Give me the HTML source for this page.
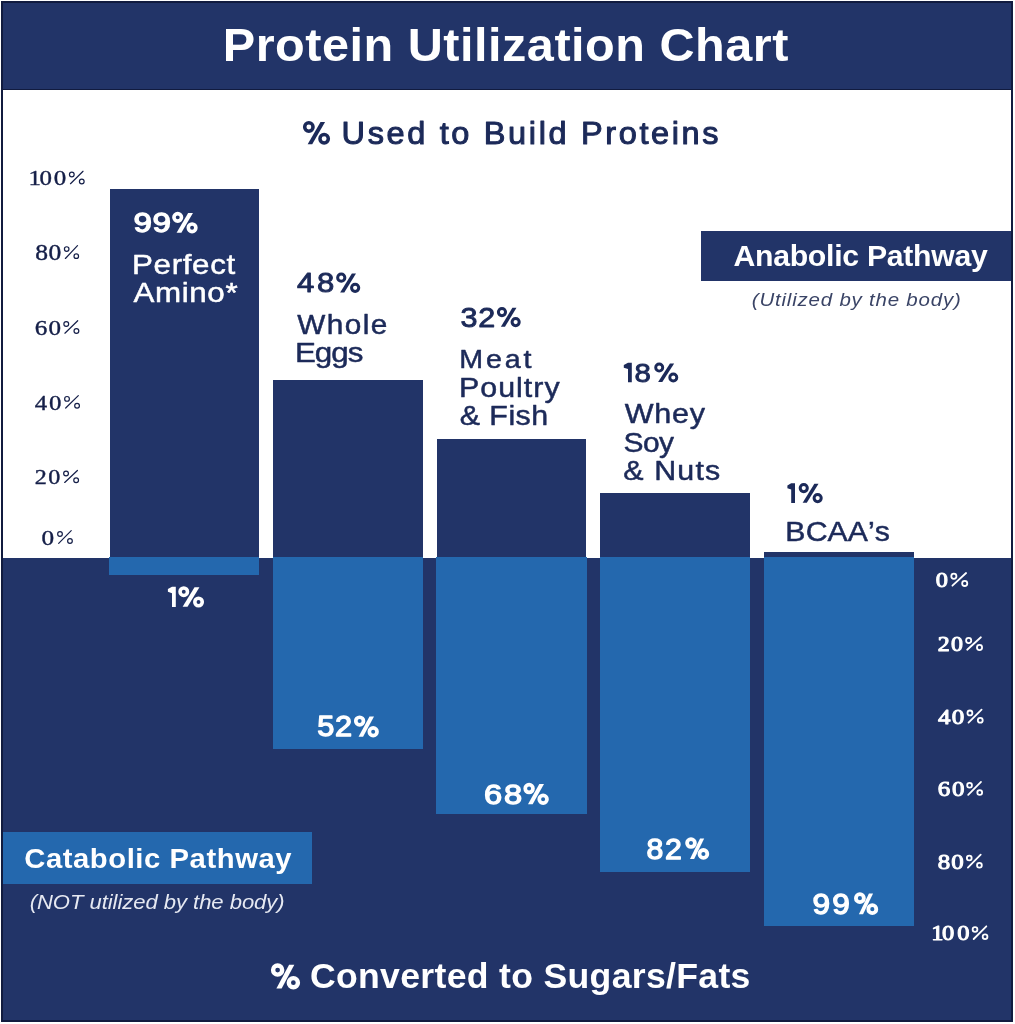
<!DOCTYPE html>
<html><head><meta charset="utf-8"><title>Protein Utilization Chart</title>
<style>
html,body{margin:0;padding:0;}
body{width:1015px;height:1024px;position:relative;overflow:hidden;background:#ffffff;font-family:"Liberation Sans", sans-serif;}
.r{position:absolute;}
svg{position:absolute;left:0;top:0;will-change:transform;}
text{font-kerning:none;white-space:pre;}
</style></head><body>
<div class="r" style="left:1px;top:1px;width:1012px;height:1021px;background:#111b3f;"></div>
<div class="r" style="left:3px;top:3px;width:1008px;height:86px;background:#223468;"></div>
<div class="r" style="left:3px;top:90px;width:1008px;height:467.6px;background:#ffffff;"></div>
<div class="r" style="left:3px;top:557.6px;width:1008px;height:462.4px;background:#223468;"></div>
<div class="r" style="left:109.8px;top:189.1px;width:149.3px;height:367.9px;background:#223468;"></div>
<div class="r" style="left:273.0px;top:380.2px;width:149.9px;height:176.8px;background:#223468;"></div>
<div class="r" style="left:437.0px;top:438.6px;width:149.4px;height:118.4px;background:#223468;"></div>
<div class="r" style="left:600.3px;top:492.7px;width:149.8px;height:64.3px;background:#223468;"></div>
<div class="r" style="left:764.2px;top:552.0px;width:149.4px;height:5.0px;background:#223468;"></div>
<div class="r" style="left:109.2px;top:557px;width:149.9px;height:17.6px;background:#2468ae;"></div>
<div class="r" style="left:272.8px;top:557px;width:150.4px;height:191.7px;background:#2468ae;"></div>
<div class="r" style="left:436.0px;top:557px;width:150.5px;height:256.5px;background:#2468ae;"></div>
<div class="r" style="left:600.0px;top:557px;width:150.2px;height:314.6px;background:#2468ae;"></div>
<div class="r" style="left:763.6px;top:557px;width:150.4px;height:368.6px;background:#2468ae;"></div>
<div class="r" style="left:701px;top:230.7px;width:310px;height:50.8px;background:#223468;"></div>
<div class="r" style="left:3px;top:831.8px;width:309.3px;height:52px;background:#2468ae;"></div>
<svg width="1015" height="1024" viewBox="0 0 1015 1024">
<text transform="matrix(1.0500 0 0 1 222.75 61.00)" style="font-family:'Liberation Sans', sans-serif;font-weight:700;font-style:normal;font-size:46.28px;letter-spacing:0.491px;fill:#ffffff;">Protein Utilization Chart</text>
<text transform="matrix(1.0500 0 0 1 341.59 143.70)" style="font-family:'Liberation Sans', sans-serif;font-weight:400;font-style:normal;font-size:30.96px;letter-spacing:2.515px;fill:#1c2a59;stroke:#1c2a59;stroke-width:1.00px;stroke-linejoin:round;">Used to Build Proteins</text>
<text transform="matrix(1.1500 0 0 1 28.41 185.30)" x="-0.00 9.60 21.95" style="font-family:'Liberation Serif', serif;font-weight:400;font-style:normal;font-size:21.71px;letter-spacing:0.000px;fill:#151f48;stroke:#151f48;stroke-width:0.40px;stroke-linejoin:round;">100</text>
<text transform="matrix(1.1500 0 0 1 35.23 260.10)" x="-0.00 11.48" style="font-family:'Liberation Serif', serif;font-weight:400;font-style:normal;font-size:22.25px;letter-spacing:0.000px;fill:#151f48;stroke:#151f48;stroke-width:0.40px;stroke-linejoin:round;">80</text>
<text transform="matrix(1.1500 0 0 1 34.82 334.80)" x="-0.00 11.85" style="font-family:'Liberation Serif', serif;font-weight:400;font-style:normal;font-size:21.85px;letter-spacing:0.000px;fill:#151f48;stroke:#151f48;stroke-width:0.40px;stroke-linejoin:round;">60</text>
<text transform="matrix(1.1500 0 0 1 34.81 409.60)" x="-0.00 12.38" style="font-family:'Liberation Serif', serif;font-weight:400;font-style:normal;font-size:21.61px;letter-spacing:0.000px;fill:#151f48;stroke:#151f48;stroke-width:0.40px;stroke-linejoin:round;">40</text>
<text transform="matrix(1.1500 0 0 1 34.84 484.00)" x="0.00 11.69" style="font-family:'Liberation Serif', serif;font-weight:400;font-style:normal;font-size:20.95px;letter-spacing:0.000px;fill:#151f48;stroke:#151f48;stroke-width:0.40px;stroke-linejoin:round;">20</text>
<text transform="matrix(1.1500 0 0 1 41.44 544.90)" x="0.00" style="font-family:'Liberation Serif', serif;font-weight:400;font-style:normal;font-size:21.95px;letter-spacing:0.000px;fill:#151f48;stroke:#151f48;stroke-width:0.40px;stroke-linejoin:round;">0</text>
<text transform="matrix(1.1500 0 0 1 935.77 587.00)" x="-0.00" style="font-family:'Liberation Serif', serif;font-weight:400;font-style:normal;font-size:21.20px;letter-spacing:0.000px;fill:#ffffff;stroke:#ffffff;stroke-width:1.00px;stroke-linejoin:round;">0</text>
<text transform="matrix(1.1500 0 0 1 937.75 651.00)" x="0.00 11.43" style="font-family:'Liberation Serif', serif;font-weight:400;font-style:normal;font-size:20.80px;letter-spacing:0.000px;fill:#ffffff;stroke:#ffffff;stroke-width:1.00px;stroke-linejoin:round;">20</text>
<text transform="matrix(1.1500 0 0 1 938.01 723.90)" x="-0.00 11.94" style="font-family:'Liberation Serif', serif;font-weight:400;font-style:normal;font-size:21.76px;letter-spacing:0.000px;fill:#ffffff;stroke:#ffffff;stroke-width:1.00px;stroke-linejoin:round;">40</text>
<text transform="matrix(1.1500 0 0 1 937.73 796.20)" x="-0.00 12.45" style="font-family:'Liberation Serif', serif;font-weight:400;font-style:normal;font-size:21.70px;letter-spacing:0.000px;fill:#ffffff;stroke:#ffffff;stroke-width:1.00px;stroke-linejoin:round;">60</text>
<text transform="matrix(1.1500 0 0 1 937.85 868.90)" x="-0.00 11.57" style="font-family:'Liberation Serif', serif;font-weight:400;font-style:normal;font-size:21.65px;letter-spacing:0.000px;fill:#ffffff;stroke:#ffffff;stroke-width:1.00px;stroke-linejoin:round;">80</text>
<text transform="matrix(1.1500 0 0 1 931.35 940.30)" x="0.00 9.32 22.45" style="font-family:'Liberation Serif', serif;font-weight:400;font-style:normal;font-size:21.25px;letter-spacing:0.000px;fill:#ffffff;stroke:#ffffff;stroke-width:1.00px;stroke-linejoin:round;">100</text>
<text transform="matrix(1.1922 0 0 1 133.40 232.35)" x="0.00 16.11" style="font-family:'Liberation Sans', sans-serif;font-weight:400;font-style:normal;font-size:27.78px;letter-spacing:0.000px;fill:#ffffff;stroke:#ffffff;stroke-width:1.30px;stroke-linejoin:round;">99</text>
<text transform="matrix(1.1291 0 0 1 296.94 292.35)" x="-0.00 17.68" style="font-family:'Liberation Sans', sans-serif;font-weight:400;font-style:normal;font-size:27.56px;letter-spacing:0.000px;fill:#1c2a59;stroke:#1c2a59;stroke-width:0.90px;stroke-linejoin:round;">48</text>
<text transform="matrix(1.1213 0 0 1 460.39 326.65)" x="-0.00 15.90" style="font-family:'Liberation Sans', sans-serif;font-weight:400;font-style:normal;font-size:27.21px;letter-spacing:0.000px;fill:#1c2a59;stroke:#1c2a59;stroke-width:0.90px;stroke-linejoin:round;">32</text>
<text transform="matrix(1.1040 0 0 1 634.47 381.85)" x="-0.00" style="font-family:'Liberation Sans', sans-serif;font-weight:400;font-style:normal;font-size:26.64px;letter-spacing:0.000px;fill:#1c2a59;stroke:#1c2a59;stroke-width:0.90px;stroke-linejoin:round;">8</text>
<text transform="matrix(1.0758 0 0 1 317.32 736.35)" x="0.00 16.35" style="font-family:'Liberation Sans', sans-serif;font-weight:400;font-style:normal;font-size:28.57px;letter-spacing:0.000px;fill:#ffffff;stroke:#ffffff;stroke-width:1.30px;stroke-linejoin:round;">52</text>
<text transform="matrix(1.1441 0 0 1 483.89 803.95)" x="0.00 17.60" style="font-family:'Liberation Sans', sans-serif;font-weight:400;font-style:normal;font-size:28.50px;letter-spacing:0.000px;fill:#ffffff;stroke:#ffffff;stroke-width:1.30px;stroke-linejoin:round;">68</text>
<text transform="matrix(1.0471 0 0 1 646.43 858.65)" x="0.00 17.76" style="font-family:'Liberation Sans', sans-serif;font-weight:400;font-style:normal;font-size:28.93px;letter-spacing:0.000px;fill:#ffffff;stroke:#ffffff;stroke-width:1.30px;stroke-linejoin:round;">82</text>
<text transform="matrix(1.0766 0 0 1 812.57 913.95)" x="-0.00 18.39" style="font-family:'Liberation Sans', sans-serif;font-weight:400;font-style:normal;font-size:29.36px;letter-spacing:0.000px;fill:#ffffff;stroke:#ffffff;stroke-width:1.30px;stroke-linejoin:round;">99</text>
<text transform="matrix(1.1000 0 0 1 131.98 273.55)" style="font-family:'Liberation Sans', sans-serif;font-weight:400;font-style:normal;font-size:28.49px;letter-spacing:0.610px;fill:#ffffff;stroke:#ffffff;stroke-width:0.50px;stroke-linejoin:round;">Perfect</text>
<text transform="matrix(1.1000 0 0 1 133.39 302.05)" style="font-family:'Liberation Sans', sans-serif;font-weight:400;font-style:normal;font-size:28.49px;letter-spacing:0.587px;fill:#ffffff;stroke:#ffffff;stroke-width:0.50px;stroke-linejoin:round;">Amino*</text>
<text transform="matrix(1.1000 0 0 1 297.32 333.85)" style="font-family:'Liberation Sans', sans-serif;font-weight:400;font-style:normal;font-size:27.04px;letter-spacing:1.286px;fill:#1c2a59;stroke:#1c2a59;stroke-width:0.50px;stroke-linejoin:round;">Whole</text>
<text transform="matrix(1.1000 0 0 1 294.88 362.25)" style="font-family:'Liberation Sans', sans-serif;font-weight:400;font-style:normal;font-size:28.49px;letter-spacing:-0.886px;fill:#1c2a59;stroke:#1c2a59;stroke-width:0.50px;stroke-linejoin:round;">Eggs</text>
<text transform="matrix(1.1000 0 0 1 459.20 367.75)" style="font-family:'Liberation Sans', sans-serif;font-weight:400;font-style:normal;font-size:26.02px;letter-spacing:2.585px;fill:#1c2a59;stroke:#1c2a59;stroke-width:0.50px;stroke-linejoin:round;">Meat</text>
<text transform="matrix(1.1000 0 0 1 459.06 396.75)" style="font-family:'Liberation Sans', sans-serif;font-weight:400;font-style:normal;font-size:27.62px;letter-spacing:0.910px;fill:#1c2a59;stroke:#1c2a59;stroke-width:0.50px;stroke-linejoin:round;">Poultry</text>
<text transform="matrix(1.1000 0 0 1 459.68 425.05)" style="font-family:'Liberation Sans', sans-serif;font-weight:400;font-style:normal;font-size:27.62px;letter-spacing:0.445px;fill:#1c2a59;stroke:#1c2a59;stroke-width:0.50px;stroke-linejoin:round;">&amp; Fish</text>
<text transform="matrix(1.1000 0 0 1 624.72 423.35)" style="font-family:'Liberation Sans', sans-serif;font-weight:400;font-style:normal;font-size:27.76px;letter-spacing:0.677px;fill:#1c2a59;stroke:#1c2a59;stroke-width:0.50px;stroke-linejoin:round;">Whey</text>
<text transform="matrix(1.1000 0 0 1 623.49 451.75)" style="font-family:'Liberation Sans', sans-serif;font-weight:400;font-style:normal;font-size:27.21px;letter-spacing:-0.482px;fill:#1c2a59;stroke:#1c2a59;stroke-width:0.50px;stroke-linejoin:round;">Soy</text>
<text transform="matrix(1.1000 0 0 1 623.18 480.05)" style="font-family:'Liberation Sans', sans-serif;font-weight:400;font-style:normal;font-size:27.62px;letter-spacing:1.073px;fill:#1c2a59;stroke:#1c2a59;stroke-width:0.50px;stroke-linejoin:round;">&amp; Nuts</text>
<text transform="matrix(1.1000 0 0 1 785.37 540.65)" style="font-family:'Liberation Sans', sans-serif;font-weight:400;font-style:normal;font-size:27.51px;letter-spacing:0.073px;fill:#1c2a59;stroke:#1c2a59;stroke-width:0.50px;stroke-linejoin:round;">BCAA’s</text>
<text transform="matrix(1.0400 0 0 1 733.45 266.00)" style="font-family:'Liberation Sans', sans-serif;font-weight:700;font-style:normal;font-size:29.07px;letter-spacing:-0.270px;fill:#ffffff;">Anabolic Pathway</text>
<text transform="matrix(1.1000 0 0 1 751.84 305.70)" style="font-family:'Liberation Sans', sans-serif;font-weight:400;font-style:italic;font-size:18.60px;letter-spacing:0.725px;fill:#3a4466;">(Utilized by the body)</text>
<text transform="matrix(1.0400 0 0 1 24.20 867.90)" style="font-family:'Liberation Sans', sans-serif;font-weight:700;font-style:normal;font-size:28.13px;letter-spacing:0.536px;fill:#ffffff;">Catabolic Pathway</text>
<text transform="matrix(1.1000 0 0 1 29.67 909.10)" style="font-family:'Liberation Sans', sans-serif;font-weight:400;font-style:italic;font-size:20.06px;letter-spacing:-0.045px;fill:#e6e9f2;">(NOT utilized by the body)</text>
<text transform="matrix(1.0400 0 0 1 309.94 988.10)" style="font-family:'Liberation Sans', sans-serif;font-weight:700;font-style:normal;font-size:34.25px;letter-spacing:0.294px;fill:#ffffff;">Converted to Sugars/Fats</text>
<circle cx="308.86" cy="127.01" r="4.19" fill="none" stroke="#1c2a59" stroke-width="3.49"/>
<circle cx="324.14" cy="138.78" r="4.19" fill="none" stroke="#1c2a59" stroke-width="3.49"/>
<path d="M307.66 144.25 L312.21 144.25 L325.08 122.00 L320.52 122.00 Z" fill="#1c2a59"/>
<circle cx="277.63" cy="970.02" r="4.56" fill="none" stroke="#ffffff" stroke-width="4.38"/>
<circle cx="293.37" cy="982.65" r="4.56" fill="none" stroke="#ffffff" stroke-width="4.38"/>
<path d="M276.39 988.52 L281.64 988.52 L294.33 964.65 L289.09 964.65 Z" fill="#ffffff"/>
<circle cx="177.72" cy="217.37" r="3.78" fill="none" stroke="#ffffff" stroke-width="3.62"/>
<circle cx="192.08" cy="227.82" r="3.78" fill="none" stroke="#ffffff" stroke-width="3.62"/>
<path d="M176.58 232.69 L181.37 232.69 L192.96 212.92 L188.18 212.92 Z" fill="#ffffff"/>
<circle cx="341.25" cy="277.70" r="3.60" fill="none" stroke="#1c2a59" stroke-width="3.00"/>
<circle cx="355.15" cy="287.80" r="3.60" fill="none" stroke="#1c2a59" stroke-width="3.00"/>
<path d="M340.15 292.50 L344.30 292.50 L356.01 273.40 L351.86 273.40 Z" fill="#1c2a59"/>
<circle cx="501.96" cy="312.08" r="3.58" fill="none" stroke="#1c2a59" stroke-width="2.99"/>
<circle cx="515.64" cy="322.12" r="3.58" fill="none" stroke="#1c2a59" stroke-width="2.99"/>
<path d="M500.88 326.80 L504.96 326.80 L516.48 307.80 L512.40 307.80 Z" fill="#1c2a59"/>
<circle cx="659.21" cy="367.58" r="3.51" fill="none" stroke="#1c2a59" stroke-width="2.92"/>
<circle cx="673.29" cy="377.43" r="3.51" fill="none" stroke="#1c2a59" stroke-width="2.92"/>
<path d="M658.10 382.01 L662.30 382.01 L674.15 363.38 L669.96 363.38 Z" fill="#1c2a59"/>
<circle cx="803.75" cy="488.08" r="3.58" fill="none" stroke="#1c2a59" stroke-width="2.99"/>
<circle cx="817.65" cy="498.12" r="3.58" fill="none" stroke="#1c2a59" stroke-width="2.99"/>
<path d="M802.65 502.80 L806.80 502.80 L818.51 483.80 L814.36 483.80 Z" fill="#1c2a59"/>
<circle cx="183.77" cy="591.70" r="3.72" fill="none" stroke="#ffffff" stroke-width="3.57"/>
<circle cx="198.53" cy="602.00" r="3.72" fill="none" stroke="#ffffff" stroke-width="3.57"/>
<path d="M182.60 606.79 L187.52 606.79 L199.44 587.31 L194.52 587.31 Z" fill="#ffffff"/>
<circle cx="359.62" cy="721.07" r="3.85" fill="none" stroke="#ffffff" stroke-width="3.69"/>
<circle cx="373.18" cy="731.73" r="3.85" fill="none" stroke="#ffffff" stroke-width="3.69"/>
<path d="M358.55 736.68 L363.07 736.68 L374.02 716.53 L369.49 716.53 Z" fill="#ffffff"/>
<circle cx="529.09" cy="788.59" r="3.87" fill="none" stroke="#ffffff" stroke-width="3.71"/>
<circle cx="543.11" cy="799.30" r="3.87" fill="none" stroke="#ffffff" stroke-width="3.71"/>
<path d="M527.98 804.28 L532.66 804.28 L543.97 784.04 L539.30 784.04 Z" fill="#ffffff"/>
<circle cx="690.99" cy="843.07" r="3.92" fill="none" stroke="#ffffff" stroke-width="3.76"/>
<circle cx="703.41" cy="853.92" r="3.92" fill="none" stroke="#ffffff" stroke-width="3.76"/>
<path d="M690.01 858.98 L694.15 858.98 L704.18 838.44 L700.03 838.44 Z" fill="#ffffff"/>
<circle cx="859.89" cy="898.14" r="3.98" fill="none" stroke="#ffffff" stroke-width="3.82"/>
<circle cx="872.31" cy="909.15" r="3.98" fill="none" stroke="#ffffff" stroke-width="3.82"/>
<path d="M858.91 914.27 L863.05 914.27 L873.08 893.45 L868.93 893.45 Z" fill="#ffffff"/>
<circle cx="71.80" cy="174.50" r="2.35" fill="none" stroke="#151f48" stroke-width="1.20"/>
<circle cx="81.77" cy="181.50" r="2.35" fill="none" stroke="#151f48" stroke-width="1.20"/>
<line x1="70.47" y1="183.72" x2="83.03" y2="171.29" stroke="#151f48" stroke-width="1.20" stroke-linecap="round"/>
<circle cx="66.69" cy="249.01" r="2.27" fill="none" stroke="#151f48" stroke-width="1.20"/>
<circle cx="76.28" cy="256.20" r="2.27" fill="none" stroke="#151f48" stroke-width="1.20"/>
<line x1="65.41" y1="258.48" x2="77.49" y2="245.71" stroke="#151f48" stroke-width="1.20" stroke-linecap="round"/>
<circle cx="66.26" cy="323.93" r="2.40" fill="none" stroke="#151f48" stroke-width="1.20"/>
<circle cx="76.42" cy="330.98" r="2.40" fill="none" stroke="#151f48" stroke-width="1.20"/>
<line x1="64.90" y1="333.21" x2="77.70" y2="320.70" stroke="#151f48" stroke-width="1.20" stroke-linecap="round"/>
<circle cx="67.02" cy="398.88" r="2.37" fill="none" stroke="#151f48" stroke-width="1.20"/>
<circle cx="77.06" cy="405.83" r="2.37" fill="none" stroke="#151f48" stroke-width="1.20"/>
<line x1="65.68" y1="408.04" x2="78.32" y2="395.69" stroke="#151f48" stroke-width="1.20" stroke-linecap="round"/>
<circle cx="66.04" cy="473.58" r="2.38" fill="none" stroke="#151f48" stroke-width="1.20"/>
<circle cx="76.14" cy="480.34" r="2.38" fill="none" stroke="#151f48" stroke-width="1.20"/>
<line x1="64.69" y1="482.48" x2="77.41" y2="470.47" stroke="#151f48" stroke-width="1.20" stroke-linecap="round"/>
<circle cx="60.00" cy="533.96" r="2.35" fill="none" stroke="#151f48" stroke-width="1.20"/>
<circle cx="69.97" cy="541.05" r="2.35" fill="none" stroke="#151f48" stroke-width="1.20"/>
<line x1="58.67" y1="543.30" x2="71.23" y2="530.70" stroke="#151f48" stroke-width="1.20" stroke-linecap="round"/>
<circle cx="953.86" cy="576.28" r="2.56" fill="none" stroke="#ffffff" stroke-width="1.80"/>
<circle cx="964.72" cy="583.42" r="2.56" fill="none" stroke="#ffffff" stroke-width="1.80"/>
<line x1="952.41" y1="585.69" x2="966.09" y2="573.00" stroke="#ffffff" stroke-width="1.80" stroke-linecap="round"/>
<circle cx="968.66" cy="640.50" r="2.57" fill="none" stroke="#ffffff" stroke-width="1.80"/>
<circle cx="979.52" cy="647.50" r="2.57" fill="none" stroke="#ffffff" stroke-width="1.80"/>
<line x1="967.21" y1="649.72" x2="980.89" y2="637.29" stroke="#ffffff" stroke-width="1.80" stroke-linecap="round"/>
<circle cx="969.92" cy="712.96" r="2.45" fill="none" stroke="#ffffff" stroke-width="1.80"/>
<circle cx="980.27" cy="720.24" r="2.45" fill="none" stroke="#ffffff" stroke-width="1.80"/>
<line x1="968.53" y1="722.55" x2="981.57" y2="709.62" stroke="#ffffff" stroke-width="1.80" stroke-linecap="round"/>
<circle cx="969.56" cy="785.26" r="2.40" fill="none" stroke="#ffffff" stroke-width="1.80"/>
<circle cx="979.72" cy="792.54" r="2.40" fill="none" stroke="#ffffff" stroke-width="1.80"/>
<line x1="968.20" y1="794.85" x2="981.00" y2="781.92" stroke="#ffffff" stroke-width="1.80" stroke-linecap="round"/>
<circle cx="969.26" cy="857.96" r="2.40" fill="none" stroke="#ffffff" stroke-width="1.80"/>
<circle cx="979.42" cy="865.24" r="2.40" fill="none" stroke="#ffffff" stroke-width="1.80"/>
<line x1="967.90" y1="867.55" x2="980.70" y2="854.62" stroke="#ffffff" stroke-width="1.80" stroke-linecap="round"/>
<circle cx="975.02" cy="929.58" r="2.37" fill="none" stroke="#ffffff" stroke-width="1.80"/>
<circle cx="985.06" cy="936.72" r="2.37" fill="none" stroke="#ffffff" stroke-width="1.80"/>
<line x1="973.68" y1="938.99" x2="986.32" y2="926.30" stroke="#ffffff" stroke-width="1.80" stroke-linecap="round"/>
<path d="M628.00 362.80 L631.80 362.80 L631.80 382.30 L628.00 382.30 L628.00 369.04 L623.80 367.68 L623.80 364.94 Z" fill="#1c2a59"/>
<path d="M791.20 483.20 L795.00 483.20 L795.00 503.10 L791.20 503.10 L791.20 489.57 L787.40 488.18 L787.40 485.39 Z" fill="#1c2a59"/>
<path d="M172.00 586.70 L175.80 586.70 L175.80 607.10 L172.00 607.10 L172.00 593.23 L167.90 591.80 L167.90 588.94 Z" fill="#ffffff"/>
</svg>
</body></html>
